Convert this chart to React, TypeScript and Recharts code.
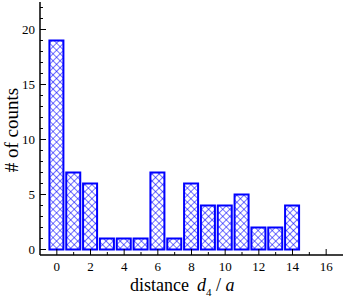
import { BarChart, Bar, XAxis, YAxis } from 'recharts'

const distances = [0, 1, 2, 3, 4, 5, 6, 7, 8, 9, 10, 11, 12, 13, 14]
const counts = [19, 7, 6, 1, 1, 1, 7, 1, 6, 4, 4, 5, 2, 2, 4]
const xTicks = [0, 1, 2, 3, 4, 5, 6, 7, 8, 9, 10, 11, 12, 13, 14, 15, 16]
const yTicks = [0, 1, 2, 3, 4, 5, 6, 7, 8, 9, 10, 11, 12, 13, 14, 15, 16, 17, 18, 19, 20, 21, 22]

const data = distances.map((d, i) => ({ d, count: counts[i] }))

const FONT = '"Liberation Serif", "Times New Roman", serif'
const BLUE = '#0000ff'

// ticks drawn inward; labels only on major ticks
function makeTick(side: 'bottom' | 'top' | 'left' | 'right', major: number, labels: boolean) {
  return (props: any) => {
    const { x, y, payload } = props
    const v = payload.value
    const isMajor = v % major === 0
    const len = isMajor ? 6 : 3
    let line
    if (side === 'bottom') line = <line x1={x} y1={y} x2={x} y2={y - len} stroke="#000" strokeWidth={1} />
    else if (side === 'top') line = <line x1={x} y1={y} x2={x} y2={y + len} stroke="#000" strokeWidth={1} />
    else if (side === 'left') line = <line x1={x} y1={y} x2={x + len} y2={y} stroke="#000" strokeWidth={1} />
    else line = <line x1={x} y1={y} x2={x - len} y2={y} stroke="#000" strokeWidth={1} />
    return (
      <g>
        {line}
        {labels && isMajor && side === 'bottom' && (
          <text x={x} y={y + 16} textAnchor="middle" fontFamily={FONT} fontSize={13} fill="#000">{v}</text>
        )}
        {labels && isMajor && side === 'left' && (
          <text x={x - 5} y={y + 4.5} textAnchor="end" fontFamily={FONT} fontSize={13} fill="#000">{v}</text>
        )}
      </g>
    )
  }
}

export default function App() {
  return (
    <div style={{ position: 'absolute', left: 0, top: 0, background: '#fff' }}>
      <svg width={0} height={0} style={{ position: 'absolute' }}>
        <defs>
          <pattern id="xhatch" width={5} height={5} patternUnits="userSpaceOnUse" patternTransform="rotate(45)">
            <rect width={5} height={5} fill="#fff" />
            <line x1={0} y1={0} x2={0} y2={5} stroke={BLUE} strokeWidth={1.1} />
            <line x1={0} y1={0} x2={5} y2={0} stroke={BLUE} strokeWidth={1.1} />
          </pattern>
        </defs>
      </svg>
      <BarChart width={346} height={300} data={data} margin={{ top: 2, right: 3, left: 0, bottom: 0 }}>
        <XAxis
          xAxisId="bottom"
          dataKey="d"
          type="number"
          domain={[-1, 17]}
          ticks={xTicks}
          interval={0}
          height={45}
          tickSize={0}
          tickMargin={0}
          axisLine={{ stroke: '#000', strokeWidth: 1.5 }}
          tickLine={false}
          tick={makeTick('bottom', 2, true)}
          label={{
            content: () => (
              <text x={130} y={291} textAnchor="start" fontFamily={FONT} fontSize={18} fill="#000">
                distance
                <tspan dx={8} fontStyle="italic">d</tspan>
                <tspan fontSize={11} dy={5}>4</tspan>
                <tspan dy={-5}> / </tspan>
                <tspan fontStyle="italic">a</tspan>
              </text>
            ),
          }}
        />
        <XAxis
          xAxisId="top"
          dataKey="d"
          type="number"
          orientation="top"
          domain={[-1, 17]}
          ticks={xTicks}
          interval={0}
          height={0}
          tickSize={0}
          tickMargin={0}
          axisLine={{ stroke: '#777', strokeWidth: 1.5 }}
          tickLine={false}
          tick={makeTick('top', 2, false)}
        />
        <YAxis
          yAxisId="left"
          type="number"
          domain={[-0.5, 22.5]}
          ticks={yTicks}
          interval={0}
          width={40}
          tickSize={0}
          tickMargin={0}
          axisLine={{ stroke: '#000', strokeWidth: 1.5 }}
          tickLine={false}
          tick={makeTick('left', 5, true)}
          label={{
            content: () => (
              <text x={0} y={0} transform="translate(18,130) rotate(-90)" textAnchor="middle" fontFamily={FONT} fontSize={19} fill="#000">
                # of counts
              </text>
            ),
          }}
        />
        <YAxis
          yAxisId="right"
          orientation="right"
          type="number"
          domain={[-0.5, 22.5]}
          ticks={yTicks}
          interval={0}
          width={0}
          tickSize={0}
          tickMargin={0}
          axisLine={{ stroke: '#777', strokeWidth: 1.5 }}
          tickLine={false}
          tick={makeTick('right', 5, false)}
        />
        <Bar
          xAxisId="bottom"
          yAxisId="left"
          dataKey="count"
          barSize={14}
          fill="url(#xhatch)"
          stroke={BLUE}
          strokeWidth={2}
          isAnimationActive={false}
        />
      </BarChart>
    </div>
  )
}
